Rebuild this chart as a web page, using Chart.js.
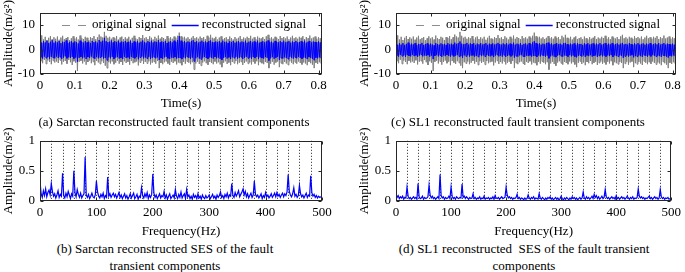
<!DOCTYPE html>
<html><head><meta charset="utf-8">
<script src="https://cdn.jsdelivr.net/npm/chart.js@4.4.0/dist/chart.umd.min.js"></script>
<style>
html,body{margin:0;padding:0;background:#fff;width:685px;height:272px;overflow:hidden;position:relative;}
canvas{position:absolute;}
.cap{position:absolute;font-family:'Liberation Serif','Times New Roman',serif;font-size:13px;color:#000;text-align:center;white-space:pre;line-height:17px;}
</style></head><body>
<canvas id="ca" width="342" height="112" style="left:0px;top:0px"></canvas>
<canvas id="cc" width="329" height="112" style="left:356px;top:0px"></canvas>
<canvas id="cb" width="342" height="112" style="left:0px;top:128px"></canvas>
<canvas id="cd" width="329" height="112" style="left:356px;top:128px"></canvas>
<div class="cap" id="capA" style="left:4px;top:113px;width:340px"></div>
<div class="cap" id="capC" style="left:368px;top:113px;width:300px"></div>
<div class="cap" id="capB" style="left:15px;top:240px;width:300px"></div>
<div class="cap" id="capD" style="left:374px;top:240px;width:300px"></div>
<script>
// ---------------- data ----------------
const timeStep = 0.005; // s between envelope columns
const origHigh = [
4.6,5.8,4.1,5.2,3.9,4.8,5.5,4.3,5.0,4.4,
5.3,4.0,4.9,5.6,4.2,4.7,5.1,3.8,4.6,5.4,
4.5,5.0,4.1,5.7,4.6,4.3,5.2,4.8,3.9,5.1,
4.7,5.5,4.2,5.0,6.1,5.3,4.9,7.2,5.6,4.8,
5.2,4.4,5.0,4.6,5.5,4.1,4.9,5.3,4.3,5.0,
4.4,5.2,4.0,4.8,5.6,4.5,4.2,5.1,4.7,5.9,
4.6,5.0,4.3,5.4,4.8,4.1,5.2,4.5,5.7,4.4,
5.1,4.7,4.2,5.5,4.6,5.0,4.4,5.3,4.8,5.6,
6.9,5.4,4.9,5.2,4.5,5.0,4.3,4.8,5.5,4.6,
5.0,4.4,5.3,4.7,5.1,4.2,5.6,4.9,6.0,4.8,
4.5,5.2,4.1,4.9,5.4,4.3,4.7,5.0,4.2,5.3,
4.6,4.1,5.1,4.4,4.8,5.5,4.3,4.9,4.5,5.2,
4.7,5.6,4.4,5.0,4.2,5.3,4.8,4.5,5.1,4.3,
5.4,6.0,4.6,5.0,4.4,5.2,4.8,4.3,5.5,4.7,
5.1,4.5,5.3,4.2,4.9,5.6,4.6,5.0,4.4,5.2,
4.8,5.5,4.3,5.1,4.6,5.7,4.5,4.9,5.3,4.4,
5.0,4.6,5.2];
const origLow = [
-4.8,-5.6,-4.2,-5.9,-4.5,-5.1,-6.0,-4.6,-5.3,-4.9,
-5.5,-4.4,-6.1,-5.0,-4.7,-5.8,-4.3,-5.2,-6.3,-4.8,
-5.4,-8.8,-5.0,-4.6,-5.7,-4.9,-6.2,-5.1,-4.5,-5.6,
-5.0,-6.4,-4.7,-5.3,-5.9,-4.8,-5.5,-6.6,-7.6,-5.2,
-5.7,-4.9,-6.0,-5.4,-4.6,-5.8,-5.1,-6.3,-4.8,-5.5,
-5.0,-6.2,-4.7,-5.6,-5.2,-4.9,-6.5,-5.3,-4.6,-5.9,
-5.1,-5.7,-4.8,-6.1,-5.4,-5.0,-5.8,-4.7,-7.6,-5.5,
-6.0,-5.2,-4.9,-5.7,-6.3,-5.0,-5.5,-4.8,-6.1,-5.3,
-5.6,-6.4,-5.1,-5.8,-4.9,-5.4,-6.0,-5.2,-8.2,-5.7,
-5.0,-5.9,-6.6,-5.3,-4.8,-5.6,-6.2,-5.1,-5.5,-6.0,
-4.9,-5.7,-5.2,-6.1,-7.2,-5.4,-4.8,-5.9,-5.3,-6.4,
-5.1,-5.6,-4.7,-6.0,-5.4,-5.0,-6.3,-5.5,-4.9,-5.8,
-5.3,-6.1,-5.0,-5.7,-4.8,-6.4,-5.2,-5.6,-6.0,-5.1,
-5.5,-7.6,-5.8,-5.0,-6.2,-5.3,-4.9,-7.2,-5.6,-6.0,
-5.1,-5.7,-6.3,-4.8,-5.4,-6.0,-5.2,-5.8,-4.9,-5.5,
-6.1,-5.3,-5.7,-6.4,-5.0,-5.6,-6.2,-7.6,-5.4,-5.9,
-5.2,-5.7,-5.0];
const sarctanHigh = [
3.1,2.6,3.4,2.9,3.6,2.7,3.2,3.8,2.8,3.3,
2.9,3.5,2.6,3.2,3.0,3.7,2.7,3.1,3.4,2.8,
3.3,3.0,2.5,3.6,3.1,2.8,3.4,2.9,3.2,2.7,
3.5,3.0,3.3,2.8,3.9,3.2,3.6,4.8,3.4,3.0,
3.2,3.7,2.9,3.4,3.1,3.6,2.8,3.3,3.0,3.5,
2.9,3.2,3.6,2.7,3.3,3.0,3.5,2.8,3.2,3.7,
3.1,2.8,3.4,3.0,3.6,2.9,3.3,3.1,3.8,2.9,
3.3,3.0,3.5,2.7,3.2,3.4,2.9,3.6,3.1,3.9,
5.5,3.6,3.1,3.4,2.9,3.3,3.0,3.5,3.8,3.1,
3.4,2.8,3.2,3.6,3.0,3.3,2.9,3.5,3.7,3.1,
2.9,3.3,3.0,3.4,2.8,3.6,3.1,3.2,2.7,3.4,
3.0,3.5,2.8,3.2,3.4,2.9,3.3,3.0,3.6,2.8,
3.2,3.5,2.9,3.3,3.0,3.6,2.8,3.1,3.4,2.9,
3.3,3.7,3.0,3.2,2.8,3.5,3.1,2.9,3.4,3.0,
3.6,2.9,3.2,3.4,2.8,3.3,3.0,3.5,2.9,3.1,
3.4,3.0,3.6,2.8,3.2,3.5,2.9,3.3,3.1,3.0,
3.3,2.9,3.2];
const sarctanLow = [
-3.2,-3.7,-2.9,-3.5,-3.1,-3.8,-3.0,-3.4,-3.6,-2.9,
-3.5,-3.1,-3.9,-3.3,-2.8,-3.6,-3.2,-3.4,-3.0,-3.7,
-3.3,-5.0,-3.4,-3.0,-3.6,-3.2,-3.9,-3.1,-3.5,-2.9,
-3.4,-3.8,-3.1,-3.6,-3.3,-3.0,-3.7,-3.5,-4.4,-3.2,
-3.6,-3.0,-3.8,-3.3,-3.1,-3.7,-3.4,-3.9,-3.0,-3.5,
-3.2,-3.8,-3.0,-3.4,-3.6,-3.1,-4.0,-3.3,-2.9,-3.6,
-3.3,-3.7,-3.0,-3.9,-3.4,-3.1,-3.6,-3.2,-4.3,-3.5,
-3.8,-3.2,-3.0,-3.6,-3.9,-3.3,-3.5,-3.1,-3.7,-3.4,
-3.5,-3.9,-3.2,-3.6,-3.0,-3.4,-3.8,-3.3,-4.8,-3.6,
-3.1,-3.7,-4.0,-3.3,-3.0,-3.5,-3.8,-3.2,-3.4,-3.7,
-3.0,-3.6,-3.3,-3.8,-4.2,-3.4,-3.1,-3.7,-3.2,-3.9,
-3.2,-3.5,-3.0,-3.7,-3.4,-3.1,-3.9,-3.4,-3.0,-3.6,
-3.3,-3.8,-3.1,-3.5,-3.0,-3.9,-3.2,-3.5,-3.7,-3.1,
-3.4,-4.5,-3.6,-3.1,-3.8,-3.3,-3.0,-4.2,-3.5,-3.7,
-3.2,-3.5,-3.9,-3.0,-3.4,-3.7,-3.2,-3.6,-3.0,-3.4,
-3.8,-3.3,-3.5,-3.9,-3.1,-3.5,-3.8,-4.4,-3.3,-3.6,
-3.2,-3.5,-3.1];
const sl1High = [
2.2,1.8,2.5,2.0,2.6,1.9,2.3,2.8,2.0,2.4,
2.1,2.6,1.8,2.3,2.2,2.7,1.9,2.2,2.5,2.0,
2.4,2.1,1.7,2.6,2.2,2.0,2.5,2.1,2.3,1.9,
2.6,2.1,2.4,2.0,2.8,2.3,2.6,3.3,2.4,2.1,
2.3,2.7,2.0,2.5,2.2,2.6,1.9,2.4,2.1,2.6,
2.0,2.3,2.6,1.9,2.4,2.1,2.5,2.0,2.3,2.7,
2.2,2.0,2.5,2.1,2.6,2.0,2.4,2.2,2.8,2.0,
2.4,2.1,2.6,1.9,2.3,2.5,2.0,2.6,2.2,2.9,
3.4,2.6,2.2,2.5,2.0,2.4,2.1,2.6,2.8,2.2,
2.5,2.0,2.3,2.6,2.1,2.4,2.0,2.6,2.7,2.2,
2.0,2.4,2.1,2.5,1.9,2.6,2.2,2.3,1.9,2.5,
2.1,2.6,2.0,2.3,2.5,2.0,2.4,2.1,2.6,2.0,
2.3,2.6,2.0,2.4,2.1,2.6,2.0,2.2,2.5,2.0,
2.4,2.7,2.1,2.3,2.0,2.6,2.2,2.0,2.5,2.1,
2.6,2.0,2.3,2.5,2.0,2.4,2.1,2.6,2.0,2.2,
2.5,2.1,2.6,2.0,2.3,2.6,2.0,2.4,2.2,2.1,
2.4,2.0,2.3];
const sl1Low = [
-2.5,-2.9,-2.2,-2.7,-2.4,-3.0,-2.3,-2.6,-2.8,-2.2,
-2.7,-2.4,-3.0,-2.5,-2.1,-2.8,-2.4,-2.6,-2.3,-2.9,
-2.5,-3.9,-2.6,-2.3,-2.8,-2.4,-3.0,-2.4,-2.7,-2.2,
-2.6,-2.9,-2.4,-2.8,-2.5,-2.3,-2.9,-2.7,-3.4,-2.4,
-2.8,-2.3,-2.9,-2.5,-2.4,-2.9,-2.6,-3.0,-2.3,-2.7,
-2.4,-2.9,-2.3,-2.6,-2.8,-2.4,-3.1,-2.5,-2.2,-2.8,
-2.5,-2.9,-2.3,-3.0,-2.6,-2.4,-2.8,-2.4,-3.3,-2.7,
-2.9,-2.4,-2.3,-2.8,-3.0,-2.5,-2.7,-2.4,-2.9,-2.6,
-2.7,-3.0,-2.4,-2.8,-2.3,-2.6,-2.9,-2.5,-3.6,-2.8,
-2.4,-2.9,-3.1,-2.5,-2.3,-2.7,-2.9,-2.4,-2.6,-2.9,
-2.3,-2.8,-2.5,-2.9,-3.2,-2.6,-2.4,-2.9,-2.4,-3.0,
-2.4,-2.7,-2.3,-2.9,-2.6,-2.4,-3.0,-2.6,-2.3,-2.8,
-2.5,-2.9,-2.4,-2.7,-2.3,-3.0,-2.4,-2.7,-2.9,-2.4,
-2.6,-3.4,-2.8,-2.4,-2.9,-2.5,-2.3,-3.2,-2.7,-2.9,
-2.4,-2.7,-3.0,-2.3,-2.6,-2.9,-2.4,-2.8,-2.3,-2.6,
-2.9,-2.5,-2.7,-3.0,-2.4,-2.7,-2.9,-3.3,-2.5,-2.8,
-2.4,-2.7,-2.4];

const freqStep = 2; // Hz between spectrum bins
const sesSarctan = [
0.33,0.12,0.06,0.17,0.09,0.20,0.07,0.14,0.18,0.10,
0.29,0.16,0.08,0.12,0.05,0.10,0.17,0.06,0.11,0.08,
0.46,0.09,0.05,0.13,0.07,0.16,0.10,0.04,0.12,0.08,
0.50,0.14,0.07,0.19,0.11,0.06,0.13,0.05,0.09,0.12,
0.73,0.10,0.06,0.11,0.04,0.08,0.13,0.07,0.05,0.10,
0.33,0.15,0.08,0.05,0.11,0.07,0.13,0.04,0.09,0.06,
0.40,0.08,0.12,0.06,0.10,0.13,0.07,0.11,0.05,0.09,
0.14,0.06,0.10,0.04,0.08,0.12,0.05,0.09,0.03,0.07,
0.12,0.05,0.09,0.13,0.04,0.07,0.11,0.03,0.08,0.06,
0.22,0.09,0.05,0.12,0.07,0.14,0.04,0.10,0.06,0.11,
0.45,0.13,0.06,0.10,0.04,0.08,0.12,0.05,0.09,0.07,
0.16,0.05,0.10,0.03,0.08,0.12,0.04,0.07,0.10,0.05,
0.19,0.08,0.04,0.11,0.06,0.15,0.05,0.09,0.12,0.04,
0.19,0.07,0.10,0.04,0.08,0.03,0.11,0.06,0.09,0.04,
0.12,0.05,0.08,0.03,0.10,0.06,0.04,0.09,0.05,0.07,
0.10,0.04,0.07,0.11,0.05,0.08,0.03,0.10,0.06,0.09,
0.15,0.06,0.09,0.04,0.11,0.07,0.13,0.05,0.10,0.08,
0.29,0.09,0.06,0.14,0.08,0.12,0.17,0.07,0.11,0.15,
0.20,0.10,0.16,0.07,0.12,0.05,0.09,0.13,0.06,0.10,
0.33,0.11,0.07,0.10,0.05,0.08,0.12,0.04,0.09,0.06,
0.14,0.07,0.10,0.05,0.08,0.12,0.06,0.09,0.13,0.07,
0.14,0.08,0.11,0.06,0.10,0.13,0.07,0.12,0.09,0.15,
0.44,0.16,0.10,0.07,0.12,0.22,0.08,0.11,0.06,0.09,
0.26,0.12,0.07,0.10,0.05,0.09,0.13,0.06,0.10,0.08,
0.42,0.14,0.08,0.11,0.06,0.09,0.05,0.08,0.06,0.07,
0.07];
const sesSL1 = [
0.12,0.06,0.09,0.04,0.07,0.05,0.08,0.03,0.06,0.05,
0.23,0.08,0.04,0.06,0.03,0.05,0.07,0.04,0.06,0.03,
0.29,0.07,0.04,0.05,0.08,0.03,0.06,0.04,0.05,0.07,
0.26,0.10,0.05,0.08,0.04,0.06,0.03,0.05,0.07,0.04,
0.44,0.09,0.05,0.07,0.03,0.06,0.04,0.05,0.08,0.04,
0.23,0.08,0.04,0.06,0.03,0.07,0.05,0.04,0.06,0.05,
0.28,0.06,0.08,0.04,0.07,0.05,0.03,0.06,0.04,0.05,
0.12,0.04,0.06,0.03,0.05,0.04,0.07,0.03,0.05,0.04,
0.08,0.03,0.05,0.04,0.06,0.03,0.05,0.04,0.07,0.03,
0.09,0.05,0.04,0.06,0.03,0.05,0.07,0.04,0.05,0.06,
0.23,0.10,0.05,0.07,0.04,0.06,0.03,0.05,0.04,0.06,
0.11,0.04,0.06,0.03,0.05,0.04,0.02,0.05,0.03,0.04,
0.10,0.05,0.03,0.06,0.04,0.07,0.03,0.05,0.04,0.03,
0.12,0.05,0.03,0.06,0.04,0.02,0.05,0.03,0.06,0.04,
0.07,0.03,0.05,0.02,0.04,0.06,0.03,0.05,0.02,0.04,
0.08,0.04,0.02,0.05,0.03,0.06,0.04,0.02,0.05,0.03,
0.07,0.04,0.06,0.03,0.05,0.02,0.04,0.06,0.03,0.05,
0.15,0.05,0.03,0.07,0.04,0.06,0.03,0.05,0.08,0.04,
0.11,0.06,0.09,0.04,0.07,0.03,0.05,0.08,0.04,0.06,
0.19,0.07,0.04,0.06,0.03,0.05,0.07,0.04,0.06,0.03,
0.09,0.04,0.06,0.03,0.05,0.07,0.04,0.06,0.03,0.05,
0.08,0.05,0.03,0.06,0.04,0.07,0.03,0.05,0.04,0.06,
0.20,0.08,0.05,0.07,0.04,0.06,0.03,0.05,0.04,0.06,
0.08,0.04,0.06,0.03,0.05,0.07,0.04,0.06,0.03,0.05,
0.19,0.07,0.04,0.06,0.03,0.05,0.04,0.06,0.03,0.04,
0.04];

const timeTicks = [0, 0.1, 0.2, 0.3, 0.4, 0.5, 0.6, 0.7, 0.8];
const ampTicks = [-10, 0, 10];
const freqTicks = [0, 100, 200, 300, 400, 500];
const sesTicks = [0, 0.5, 1];
const harmonicLines = [20,40,60,80,100,120,140,160,180,200,220,240,260,280,300,320,340,360,380,400,420,440,460,480];
const seriesLabels = ['original signal', 'reconstructed signal'];
const timeTitle = 'Time(s)';
const freqTitle = 'Frequency(Hz)';
const ampTitle = 'Amplitude(m/s\u00B2)';
const captions = {
  capA: '(a) Sarctan reconstructed fault transient components',
  capC: '(c) SL1 reconstructed fault transient components',
  capB: '(b) Sarctan reconstructed SES of the fault\ntransient components',
  capD: '(d) SL1 reconstructed  SES of the fault transient\ncomponents'
};
// --------------------------------------
for (const k in captions) document.getElementById(k).textContent = captions[k];

const FONT = "'Liberation Serif','Times New Roman',serif";
Chart.defaults.font.family = FONT;
Chart.defaults.font.size = 13;
Chart.defaults.color = '#000';

function band(high, low) {
  const pts = [];
  for (let i = 0; i < high.length; i++) {
    const t = i * timeStep;
    pts.push({x: t, y: high[i]});
    pts.push({x: t + timeStep / 2, y: low[i]});
  }
  return pts;
}
function spectrum(vals) { return vals.map((v, i) => ({x: i * freqStep, y: v})); }

const matlabAxes = {
  id: 'matlabAxes',
  beforeDatasetsDraw(chart, args, opts) {
    const {ctx, chartArea: a, scales: {x}} = chart;
    if (opts.gridLines) {
      ctx.save();
      ctx.strokeStyle = '#222';
      ctx.lineWidth = 1;
      ctx.setLineDash([1, 2]);
      opts.gridLines.forEach(v => {
        const px = Math.round(x.getPixelForValue(v)) + 0.5;
        ctx.beginPath(); ctx.moveTo(px, a.top); ctx.lineTo(px, a.bottom); ctx.stroke();
      });
      ctx.restore();
    }
  },
  afterDatasetsDraw(chart, args, opts) {
    const {ctx, chartArea: a, scales: {x, y}} = chart;
    const L = Math.round(a.left) + 0.5, R = Math.round(a.right) - 0.5;
    const T = Math.round(a.top) + 0.5, B = Math.round(a.bottom) - 0.5;
    ctx.save();
    ctx.strokeStyle = '#262626';
    ctx.lineWidth = 1;
    ctx.setLineDash([]);
    ctx.strokeRect(L, T, R - L, B - T);
    const tl = 3;
    ctx.beginPath();
    x.ticks.forEach(t => {
      const px = Math.round(x.getPixelForValue(t.value)) + 0.5;
      ctx.moveTo(px, B); ctx.lineTo(px, B - tl);
      ctx.moveTo(px, T); ctx.lineTo(px, T + tl);
    });
    y.ticks.forEach(t => {
      const py = Math.round(y.getPixelForValue(t.value)) + 0.5;
      ctx.moveTo(L, py); ctx.lineTo(L + tl, py);
      ctx.moveTo(R, py); ctx.lineTo(R - tl, py);
    });
    ctx.stroke();
    if (opts.legend) {
      ctx.font = '13px ' + FONT;
      ctx.textBaseline = 'middle';
      ctx.textAlign = 'left';
      const ly = Math.round(a.top + 12);
      let lx = a.right - 16;
      const ds = chart.data.datasets;
      for (let i = ds.length - 1; i >= 0; i--) {
        const d = ds[i];
        const w = ctx.measureText(d.label).width;
        ctx.fillStyle = '#000';
        ctx.fillText(d.label, lx - w, ly);
        lx -= w + 3;
        ctx.strokeStyle = d.legendColor;
        ctx.lineWidth = d.legendWidth;
        ctx.setLineDash(d.legendDash);
        ctx.beginPath(); ctx.moveTo(lx - 27, ly + 0.5); ctx.lineTo(lx, ly + 0.5); ctx.stroke();
        lx -= 27 + 5;
      }
    }
    ctx.restore();
  }
};

function axisCommon(ticksArr, title, isX) {
  return {
    type: 'linear',
    grid: {display: false, drawTicks: false},
    border: {display: false},
    afterBuildTicks: s => { s.ticks = ticksArr.map(v => ({value: v})); },
    ticks: {autoSkip: false, maxRotation: 0, minRotation: 0, padding: isX ? 4 : 5,
            callback: v => String(v), color: '#000', font: {size: 13}},
    title: {display: true, text: title, color: '#000', font: {size: 13},
            padding: isX ? {top: 0, bottom: 1} : {top: 1, bottom: 0}}
  };
}

function timeChart(id, high, low, rightPad) {
  const xs = axisCommon(timeTicks, timeTitle, true);
  xs.min = 0; xs.max = 0.81;
  xs.afterFit = s => { s.height = 38; };
  const ys = axisCommon(ampTicks, ampTitle, false);
  ys.min = -10; ys.max = 15;
  ys.afterFit = s => { s.width = 40; };
  return new Chart(document.getElementById(id), {
    type: 'line',
    data: {datasets: [
      {label: seriesLabels[0], data: band(origHigh, origLow), borderColor: '#7f7f7f', borderWidth: 1,
       legendColor: '#8c8c8c', legendWidth: 1, legendDash: [8, 8], order: 2},
      {label: seriesLabels[1], data: band(high, low), borderColor: '#0000ff', borderWidth: 1,
       legendColor: '#0000ff', legendWidth: 1.5, legendDash: [], order: 1}
    ]},
    options: {
      responsive: false, animation: false, normalized: true,
      layout: {padding: {left: 0, top: 9, right: rightPad, bottom: 0}},
      elements: {point: {radius: 0}, line: {tension: 0}},
      plugins: {legend: {display: false}, tooltip: {enabled: false},
                matlabAxes: {legend: true}},
      scales: {x: xs, y: ys}
    },
    plugins: [matlabAxes]
  });
}

function sesChart(id, vals, rightPad) {
  const xs = axisCommon(freqTicks, freqTitle, true);
  xs.min = 0; xs.max = 500;
  xs.afterFit = s => { s.height = 39; };
  const ys = axisCommon(sesTicks, ampTitle, false);
  ys.min = 0; ys.max = 1;
  ys.afterFit = s => { s.width = 40; };
  return new Chart(document.getElementById(id), {
    type: 'line',
    data: {datasets: [
      {label: 'SES', data: spectrum(vals), borderColor: '#0000ff', borderWidth: 1.2}
    ]},
    options: {
      responsive: false, animation: false, normalized: true,
      layout: {padding: {left: 0, top: 9, right: rightPad, bottom: 0}},
      elements: {point: {radius: 0}, line: {tension: 0}},
      plugins: {legend: {display: false}, tooltip: {enabled: false},
                matlabAxes: {legend: false, gridLines: harmonicLines}},
      scales: {x: xs, y: ys}
    },
    plugins: [matlabAxes]
  });
}

timeChart('ca', sarctanHigh, sarctanLow, 20);
timeChart('cc', sl1High, sl1Low, 9);
sesChart('cb', sesSarctan, 20);
sesChart('cd', sesSL1, 9);
</script>
</body></html>
